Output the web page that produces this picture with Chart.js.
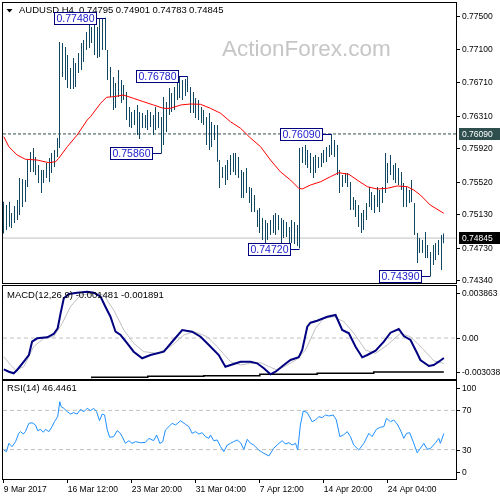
<!DOCTYPE html>
<html>
<head>
<meta charset="utf-8">
<script src="https://cdn.jsdelivr.net/npm/chart.js@4.4.1/dist/chart.umd.min.js"></script>
<style>
html, body { margin: 0; padding: 0; background: #fff; }
#wrap { position: relative; width: 500px; height: 500px; overflow: hidden; background: #fff; }
#wrap canvas { position: absolute; left: 0; }
</style>
</head>
<body>
<div id="wrap">
  <canvas id="priceChart" width="500" height="290" style="top:0px"></canvas>
  <canvas id="macdChart" width="500" height="96" style="top:284px"></canvas>
  <canvas id="rsiChart" width="500" height="120" style="top:380px"></canvas>
</div>
<script>
// AUDUSD H4 bars (bar index 0 = first bar on the left)
const barHigh = [
  0.75279, 0.75240, 0.75279, 0.75144, 0.75228, 0.75300, 0.75563, 0.75551, 0.75539, 0.75778,
  0.75874, 0.75921, 0.75814, 0.75718, 0.75659, 0.75659, 0.75742, 0.75802, 0.75862, 0.75898,
  0.76041, 0.77189, 0.77177, 0.77129, 0.77034, 0.76878, 0.76998, 0.76938, 0.77057, 0.77177,
  0.77213, 0.77309, 0.77392, 0.77368, 0.77404, 0.77368, 0.77476, 0.77464, 0.77480, 0.77094,
  0.76890, 0.76770, 0.76699, 0.76854, 0.76735, 0.76675, 0.76591, 0.76412, 0.76352, 0.76376,
  0.76436, 0.76352, 0.76340, 0.76316, 0.76376, 0.76352, 0.76316, 0.76412, 0.76352, 0.76292,
  0.76531, 0.76471, 0.76639, 0.76579, 0.76651, 0.76758, 0.76770, 0.76735, 0.76747, 0.76780,
  0.76651, 0.76591, 0.76519, 0.76496, 0.76412, 0.76376, 0.76292, 0.76340, 0.76232, 0.76196,
  0.76196, 0.75778, 0.75694, 0.75718, 0.75778, 0.75838, 0.75862, 0.75862, 0.75814, 0.75659,
  0.75634, 0.75682, 0.75455, 0.75443, 0.75359, 0.75180, 0.75204, 0.75084, 0.75060, 0.75024,
  0.75060, 0.75120, 0.75144, 0.75120, 0.75084, 0.75060, 0.75036, 0.74976, 0.75060, 0.75036,
  0.75000, 0.75921, 0.75933, 0.75957, 0.75898, 0.75862, 0.75814, 0.75838, 0.75814, 0.75862,
  0.75898, 0.75933, 0.75957, 0.76090, 0.76017, 0.75957, 0.75659, 0.75598, 0.75622, 0.75622,
  0.75515, 0.75335, 0.75300, 0.75240, 0.75144, 0.75180, 0.75264, 0.75455, 0.75395, 0.75359,
  0.75455, 0.75419, 0.75455, 0.75862, 0.75742, 0.75838, 0.75718, 0.75742, 0.75682, 0.75634,
  0.75503, 0.75455, 0.75419, 0.75539, 0.75264, 0.74905, 0.74845, 0.74821, 0.74917, 0.74761,
  0.74678, 0.74761, 0.74785, 0.74821, 0.74881, 0.74901
];
const barLow = [
  0.74901, 0.74941, 0.74980, 0.74964, 0.75024, 0.75060, 0.75120, 0.75216, 0.75276, 0.75455,
  0.75634, 0.75634, 0.75598, 0.75503, 0.75383, 0.75503, 0.75563, 0.75515, 0.75622, 0.75694,
  0.75814, 0.75921, 0.76770, 0.76735, 0.76639, 0.76627, 0.76627, 0.76651, 0.76818, 0.76854,
  0.76950, 0.77094, 0.77117, 0.77177, 0.77034, 0.76998, 0.77010, 0.77094, 0.77094, 0.76735,
  0.76531, 0.76376, 0.76400, 0.76531, 0.76460, 0.76496, 0.76256, 0.76172, 0.76160, 0.76196,
  0.76077, 0.76029, 0.76160, 0.76160, 0.76137, 0.76172, 0.76077, 0.76137, 0.76160, 0.75860,
  0.75957, 0.76113, 0.76316, 0.76352, 0.76376, 0.76496, 0.76519, 0.76496, 0.76543, 0.76591,
  0.76340, 0.76340, 0.76280, 0.76256, 0.76220, 0.76196, 0.75957, 0.75898, 0.75933, 0.76017,
  0.75758, 0.75443, 0.75563, 0.75479, 0.75539, 0.75598, 0.75634, 0.75598, 0.75563, 0.75323,
  0.75323, 0.75383, 0.75264, 0.75156, 0.75156, 0.74976, 0.74905, 0.74821, 0.74761, 0.74821,
  0.74881, 0.74905, 0.74881, 0.74941, 0.74785, 0.74845, 0.74857, 0.74737, 0.74785, 0.74773,
  0.74749, 0.74720, 0.75742, 0.75718, 0.75682, 0.75622, 0.75563, 0.75622, 0.75682, 0.75694,
  0.75742, 0.75754, 0.75814, 0.75838, 0.75814, 0.75598, 0.75383, 0.75455, 0.75503, 0.75455,
  0.75180, 0.75180, 0.75096, 0.74976, 0.74905, 0.74941, 0.75060, 0.75216, 0.75180, 0.75144,
  0.75216, 0.75156, 0.75264, 0.75383, 0.75503, 0.75598, 0.75539, 0.75503, 0.75479, 0.75419,
  0.75216, 0.75216, 0.75264, 0.75276, 0.74881, 0.74546, 0.74666, 0.74666, 0.74606, 0.74606,
  0.74390, 0.74522, 0.74583, 0.74642, 0.74463, 0.74783
];

// red moving average, sampled along the curve (bar index, price)
const maIdx = [0, 1.9, 5, 8.1, 12.5, 16.9, 19.4, 20.6, 23.8, 27.5, 31.3, 32.5, 36.3, 38.5, 41.1, 44.9,
  48.6, 52.4, 56.1, 59.9, 62.5, 66.3, 70, 73.8, 77.5, 81.3, 85, 88.8, 92.5, 96.3, 100, 103.7, 107.5,
  110.6, 111.9, 115, 118.8, 122.5, 125.6, 129.4, 132.5, 136.3, 140, 143.8, 147.5, 151.3, 153.7,
  156.2, 159.9, 165];
const maVal = [0.76057, 0.75937, 0.75838, 0.75787, 0.75778, 0.75746, 0.75758, 0.75799, 0.75937,
  0.76077, 0.76257, 0.76296, 0.76456, 0.76528, 0.76535, 0.76555, 0.76516, 0.76475, 0.76436, 0.76396,
  0.76396, 0.76436, 0.76448, 0.76444, 0.76396, 0.76337, 0.76236, 0.76157, 0.76041, 0.75937, 0.75778,
  0.75638, 0.75539, 0.75440, 0.75432, 0.75479, 0.75519, 0.75579, 0.75627, 0.75607, 0.75539, 0.75459,
  0.75432, 0.75440, 0.75468, 0.75459, 0.75420, 0.75360, 0.75240, 0.75141];

// labelled swing points
const pivotIdx = [38, 59, 69, 111, 123, 160];
const pivotPrice = [0.7748, 0.7586, 0.7678, 0.7472, 0.7609, 0.7439];

// horizontal levels
const resistLevel = 0.7609;
const lastPrice = 0.74845;

// price axis
const priceTicks = [0.775, 0.771, 0.7671, 0.7631, 0.7592, 0.7552, 0.7513, 0.7473, 0.7434];

// MACD(12,26,9)
const macdIdx = [0, 1.9, 3.7, 5, 7.5, 9.4, 10.6, 12.5, 16.3, 18.7, 20.2, 21.3, 22.5, 24.4, 27.5, 31.3,
  33.7, 36.3, 38.1, 40, 41.9, 43.8, 46.3, 48.7, 51.9, 55, 60, 63.7, 66.9, 70.6, 73.8, 76.9, 80.6, 83.1,
  86.2, 88.8, 92.5, 95, 97.5, 100, 101.9, 105, 107.5, 110.6, 111.9, 113.8, 115, 117.5, 121.3, 124.4,
  126.9, 129.4, 131.9, 134.4, 136.3, 139.4, 142.5, 145, 148.1, 150, 152.5, 155, 156.2, 159.4, 161.2,
  163.1, 165];
const macdVal = [-0.002318, -0.002496, -0.002615, -0.00237, -0.001754, -0.001257, -0.00027, -0.000018,
  0.000057, 0.000301, 0.000724, 0.001837, 0.00295, 0.003269, 0.003366, 0.00344, 0.003366, 0.003069,
  0.002327, 0.001585, 0.000472, 0.000227, -0.000389, -0.001012, -0.001502, -0.001257, -0.001012,
  -0.000144, 0.000598, 0.000472, 0.000101, -0.000515, -0.001257, -0.002125, -0.001925, -0.001754,
  -0.001754, -0.001873, -0.002244, -0.002689, -0.002496, -0.001999, -0.001628, -0.001427, -0.000886,
  0.000843, 0.00114, 0.001288, 0.001585, 0.001711, 0.000598, 0.000353, -0.000641, -0.001427, -0.001257,
  -0.000938, -0.00027, 0.000398, 0.000672, 0.000153, -0.000144, -0.001131, -0.001628, -0.002073,
  -0.001999, -0.001754, -0.001481];
const signalIdx = [0, 2.5, 4.4, 7.5, 11.2, 15, 18.7, 21.9, 25, 28.8, 33.7, 37.5, 41.2, 45, 48.7, 52.5,
  57.5, 62.5, 67.5, 71.2, 76.3, 80, 85, 88.8, 92.5, 96.3, 100, 102.5, 106.3, 110, 113.1, 116.9, 120,
  123.7, 127.5, 131.3, 135.6, 139.4, 143.8, 148.7, 152.5, 157.5, 161.2, 165];
const signalVal = [-0.001383, -0.001999, -0.00237, -0.002125, -0.000641, -0.000018, 0.000101, 0.001095,
  0.002327, 0.003195, 0.003321, 0.003195, 0.002082, 0.000598, -0.000389, -0.001012, -0.001131, -0.000641,
  0.000227, 0.000472, 0.000101, -0.000641, -0.001754, -0.001999, -0.001873, -0.001828, -0.002169,
  -0.00237, -0.001999, -0.001576, -0.000886, 0.000724, 0.001466, 0.001585, 0.001214, 0.000353, -0.000886,
  -0.001131, -0.000515, 0.000353, 0.000101, -0.000886, -0.00168, -0.001891];
// black stepped line along the bottom of the MACD window
const baseIdx = [33, 54, 75, 96, 117.5, 138.7, 160, 165];
const baseVal = [-0.002986, -0.002912, -0.002838, -0.002793, -0.002689, -0.002615, -0.002518, -0.002518];
const macdTicks = [0.003863, 0, -0.003038];
const macdTickText = ['0.003863', '0.00', '-0.003038'];

// RSI(14)
const rsiIdx = [0, 1, 1.9, 3.1, 4.4, 5.6, 6.3, 7.3, 8.1, 9.4, 10.6, 11.9, 12.7, 13.8, 14.8, 15.7, 16.9,
  18.1, 19, 20.2, 21, 21.5, 22.5, 23.8, 25, 26.2, 27.5, 28.8, 30, 31.3, 32.5, 33.7, 34.8, 35.9, 36.9,
  37.8, 38.8, 39.7, 41.2, 42.5, 43.5, 44.4, 45.6, 46.9, 48.1, 49.4, 51.3, 53.1, 54.4, 56.2, 57.3, 58.5,
  59.6, 60.6, 61.9, 63.1, 64.4, 66.3, 68.1, 69.4, 70.6, 71.9, 73.1, 74.4, 75.6, 76.9, 77.5, 78.7, 80,
  81.3, 82.5, 83.8, 85, 86.2, 87.5, 88.8, 90, 91.3, 92.5, 93.7, 95.6, 97.5, 99.4, 101.2, 102.5, 104.4,
  105.6, 106.9, 108.1, 109.4, 110.2, 111.2, 112.3, 113.8, 115.6, 116.9, 118.1, 119.4, 120.6, 121.9,
  123.5, 124.7, 126, 127.3, 128.8, 130, 131.2, 133.1, 135, 136.9, 138.1, 139.7, 141.2, 142.5, 143.5,
  145, 146.2, 147.5, 148.7, 150, 151, 152.2, 153.5, 155, 156.2, 157.5, 158.8, 160, 161.9, 163.1, 163.7,
  165];
const rsiVal = [29.6, 27.9, 36.4, 33.0, 38.1, 46.6, 48.3, 45.9, 48.3, 56.8, 57.4, 55.1, 49.3, 50.7, 47.7,
  50.7, 48.3, 53.4, 58.5, 63.6, 78.9, 73.8, 72.1, 68.7, 66.3, 67.7, 66.3, 71.1, 68.7, 72.1, 69.7, 72.1,
  68.7, 59.5, 66.3, 65.3, 50.0, 42.6, 43.2, 49.3, 47.2, 43.2, 36.4, 39.1, 36.4, 38.1, 37.0, 37.4, 41.5,
  39.1, 44.9, 36.4, 38.1, 50.0, 53.4, 56.8, 55.1, 59.5, 55.8, 53.4, 46.6, 48.3, 45.9, 47.2, 43.2, 41.5,
  44.9, 39.1, 39.8, 33.0, 27.9, 34.7, 36.4, 38.1, 39.8, 37.0, 30.3, 40.5, 36.4, 34.7, 29.6, 26.2, 23.5,
  31.3, 34.7, 39.1, 35.7, 37.0, 34.7, 36.4, 29.6, 55.1, 69.5, 67.7, 58.5, 60.2, 63.6, 62.6, 65.3, 64.3,
  65.3, 60.2, 43.2, 44.9, 48.3, 43.2, 34.7, 29.6, 36.4, 46.6, 43.2, 50.7, 52.8, 53.4, 61.9, 58.5, 60.2,
  56.1, 50.0, 41.5, 46.6, 47.2, 38.1, 26.8, 31.3, 36.4, 30.3, 31.3, 37.0, 41.5, 36.4, 46.4];
const rsiLevels = [70, 30];
const rsiTicks = [100, 70, 30, 0];

// time axis (bar index of each label)
const xTickIdx = [0, 24, 48, 72, 96, 120, 144];
const xTickText = ['9 Mar 2017', '16 Mar 12:00', '23 Mar 20:00', '31 Mar 04:00', '7 Apr 12:00',
  '14 Apr 20:00', '24 Apr 04:00'];

const X_MIN = -0.3, X_MAX = 169.56;
const FONT = "'Liberation Sans', Arial, sans-serif";

Chart.defaults.font.family = FONT;
Chart.defaults.animation = false;
Chart.defaults.events = [];
Chart.defaults.plugins.legend.display = false;
Chart.defaults.plugins.tooltip.enabled = false;

function pts(xs, ys) {
  return xs.map((x, k) => ({ x: x, y: ys[k] }));
}
function levelLine(v) {
  return [{ x: X_MIN, y: v }, { x: X_MAX, y: v }];
}

// border of each window + the value labels on the right
const panelPlugin = {
  id: 'panel',
  afterDatasetsDraw(chart, args, opts) {
    const ctx = chart.ctx, a = chart.chartArea, ys = chart.scales.y;
    ctx.save();
    ctx.strokeStyle = '#000';
    ctx.lineWidth = 1;
    ctx.strokeRect(a.left - 0.5, a.top - 0.5, a.right - a.left + 1, a.bottom - a.top + 1);
    ctx.font = '8.5px ' + FONT;
    ctx.textBaseline = 'middle';
    ctx.textAlign = 'left';
    (opts.ticks || []).forEach((t, k) => {
      let y = ys.getPixelForValue(t);
      if (opts.clamp) y = Math.min(Math.max(y, a.top + 6.5), a.bottom - 7.5);
      y = Math.round(y) + 0.5;
      ctx.beginPath();
      ctx.moveTo(a.right, y);
      ctx.lineTo(a.right + 4, y);
      ctx.stroke();
      ctx.fillStyle = '#000';
      ctx.fillText(opts.labels[k], a.right + 6, y);
    });
    (opts.tags || []).forEach(tag => {
      const y = Math.round(ys.getPixelForValue(tag.value));
      ctx.fillStyle = tag.bg;
      ctx.fillRect(a.right + 3, y - 6, 44, 12);
      ctx.fillStyle = '#fff';
      ctx.fillText(tag.text, a.right + 6, y + 0.5);
    });
    (opts.texts || []).forEach(t => {
      ctx.font = t.font;
      ctx.fillStyle = t.color || '#000';
      ctx.fillText(t.text, t.x, t.y);
    });
    ctx.restore();
  }
};

// chart name, OHLC readout and watermark, under the bars
const headerPlugin = {
  id: 'header',
  beforeDatasetsDraw(chart) {
    const ctx = chart.ctx;
    ctx.save();
    ctx.fillStyle = '#c6c6c6';
    ctx.font = '22.5px ' + FONT;
    ctx.textBaseline = 'middle';
    ctx.fillText('ActionForex.com', 222, 50);
    ctx.fillStyle = '#000';
    ctx.beginPath();
    ctx.moveTo(6.5, 9);
    ctx.lineTo(12.5, 9);
    ctx.lineTo(9.5, 12.5);
    ctx.closePath();
    ctx.fill();
    ctx.font = '9.5px ' + FONT;
    ctx.fillText('AUDUSD,H4', 19, 10.5);
    ['0.74795', '0.74901', '0.74783', '0.74845'].forEach((s, k) => ctx.fillText(s, 79 + k * 36.7, 10.5));
    ctx.restore();
  }
};

// snap the 1px bars onto whole pixels so they stay crisp like the original
const crispBars = {
  id: 'crispBars',
  afterDatasetsUpdate(chart) {
    chart.data.datasets.forEach((ds, k) => {
      if (ds.type !== 'bar') return;
      chart.getDatasetMeta(k).data.forEach(el => { el.x = Math.floor(el.x) + 0.5; });
    });
  }
};

// boxed swing-point prices with a leader to the bar
const pivotPlugin = {
  id: 'pivots',
  afterDatasetsDraw(chart) {
    const ctx = chart.ctx, xs = chart.scales.x, ys = chart.scales.y;
    ctx.save();
    pivotIdx.forEach((idx, k) => {
      const px = Math.floor(xs.getPixelForValue(idx)) + 0.5;
      const py = Math.round(ys.getPixelForValue(pivotPrice[k])) + 0.5;
      const right = Math.round(px - 10) + 0.5, left = right - 42;
      ctx.fillStyle = '#fff';
      ctx.fillRect(left, py - 6, 42, 12);
      ctx.strokeStyle = '#000080';
      ctx.lineWidth = 1;
      ctx.strokeRect(left, py - 6, 42, 12);
      ctx.beginPath();
      ctx.moveTo(right, py);
      ctx.lineTo(px, py);
      ctx.stroke();
      ctx.fillStyle = '#1a1acc';
      ctx.font = '10.5px ' + FONT;
      ctx.textAlign = 'center';
      ctx.textBaseline = 'middle';
      ctx.fillText(pivotPrice[k].toFixed(5), left + 21, py + 0.5);
    });
    ctx.restore();
  }
};

function hiddenY(min, max) {
  return { type: 'linear', display: false, min: min, max: max };
}
function hiddenX() {
  return { type: 'linear', display: false, min: X_MIN, max: X_MAX, offset: false };
}

// ---- price window ----
new Chart(document.getElementById('priceChart'), {
  type: 'bar',
  data: {
    datasets: [
      {
        type: 'line', order: 4, data: levelLine(resistLevel),
        borderColor: '#2f4f4f', borderWidth: 1, borderDash: [3, 2], pointRadius: 0
      },
      {
        type: 'line', order: 3, data: levelLine(lastPrice),
        borderColor: '#c0c0c0', borderWidth: 1, pointRadius: 0
      },
      {
        type: 'bar', order: 2,
        data: barHigh.map((h, i) => ({ x: i, y: [barLow[i], h] })),
        backgroundColor: '#104862', borderWidth: 0, barThickness: 1, inflateAmount: 0
      },
      {
        type: 'line', order: 1, data: pts(maIdx, maVal),
        borderColor: '#ff0000', borderWidth: 1, pointRadius: 0, tension: 0
      }
    ]
  },
  options: {
    responsive: false,
    devicePixelRatio: 1,
    layout: { padding: { left: 3, right: 44, top: 3, bottom: 7 } },
    scales: { x: hiddenX(), y: hiddenY(0.743078, 0.776554) },
    plugins: {
      panel: {
        ticks: priceTicks,
        labels: priceTicks.map(v => v.toFixed(5)),
        tags: [
          { value: resistLevel, text: resistLevel.toFixed(5), bg: '#2f4f4f' },
          { value: lastPrice, text: lastPrice.toFixed(5), bg: '#000' }
        ]
      }
    }
  },
  plugins: [crispBars, headerPlugin, pivotPlugin, panelPlugin]
});

// ---- MACD window ----
new Chart(document.getElementById('macdChart'), {
  type: 'line',
  data: {
    datasets: [
      { data: levelLine(0), borderColor: '#c0c0c0', borderWidth: 1, borderDash: [4, 3], pointRadius: 0, order: 4 },
      { data: pts(baseIdx, baseVal), borderColor: '#000', borderWidth: 1.5, stepped: 'after', pointRadius: 0, order: 3 },
      { data: pts(signalIdx, signalVal), borderColor: '#c0c0c0', borderWidth: 1, pointRadius: 0, order: 2 },
      { data: pts(macdIdx, macdVal), borderColor: '#000080', borderWidth: 2, pointRadius: 0, order: 1 }
    ]
  },
  options: {
    responsive: false,
    devicePixelRatio: 1,
    layout: { padding: { left: 3, right: 44, top: 2, bottom: 1 } },
    scales: { x: hiddenX(), y: hiddenY(-0.003038, 0.003863) },
    plugins: {
      panel: {
        ticks: macdTicks, labels: macdTickText, clamp: true,
        texts: [{ text: 'MACD(12,26,9) -0.001481 -0.001891', x: 7, y: 11, font: '9.5px ' + FONT }]
      }
    }
  },
  plugins: [panelPlugin]
});

// ---- RSI window + time axis ----
new Chart(document.getElementById('rsiChart'), {
  type: 'line',
  data: {
    datasets: [
      { data: levelLine(rsiLevels[0]), borderColor: '#c0c0c0', borderWidth: 1, borderDash: [4, 3], pointRadius: 0, order: 3 },
      { data: levelLine(rsiLevels[1]), borderColor: '#c0c0c0', borderWidth: 1, borderDash: [4, 3], pointRadius: 0, order: 2 },
      { data: pts(rsiIdx, rsiVal), borderColor: '#1e90ff', borderWidth: 1, pointRadius: 0, order: 1 }
    ]
  },
  options: {
    responsive: false,
    devicePixelRatio: 1,
    layout: { padding: { left: 3, right: 44, top: 1, bottom: 0 } },
    scales: {
      x: {
        type: 'linear', min: X_MIN, max: X_MAX, offset: false,
        afterBuildTicks: s => { s.ticks = xTickIdx.map(v => ({ value: v })); },
        afterFit: s => { s.height = 21; },
        ticks: {
          autoSkip: false, maxRotation: 0, align: 'start', padding: 2, color: '#000',
          font: { size: 8.5 },
          callback: (v, k) => xTickText[k]
        },
        grid: { display: true, drawOnChartArea: false, drawTicks: true, tickLength: 4, color: '#000' },
        border: { display: true, color: '#000' }
      },
      y: hiddenY(0, 100)
    },
    plugins: {
      panel: {
        ticks: rsiTicks, labels: rsiTicks.map(String), clamp: true,
        texts: [{ text: 'RSI(14) 46.4461', x: 7, y: 8, font: '9.5px ' + FONT }]
      }
    }
  },
  plugins: [panelPlugin]
});
</script>
</body>
</html>
